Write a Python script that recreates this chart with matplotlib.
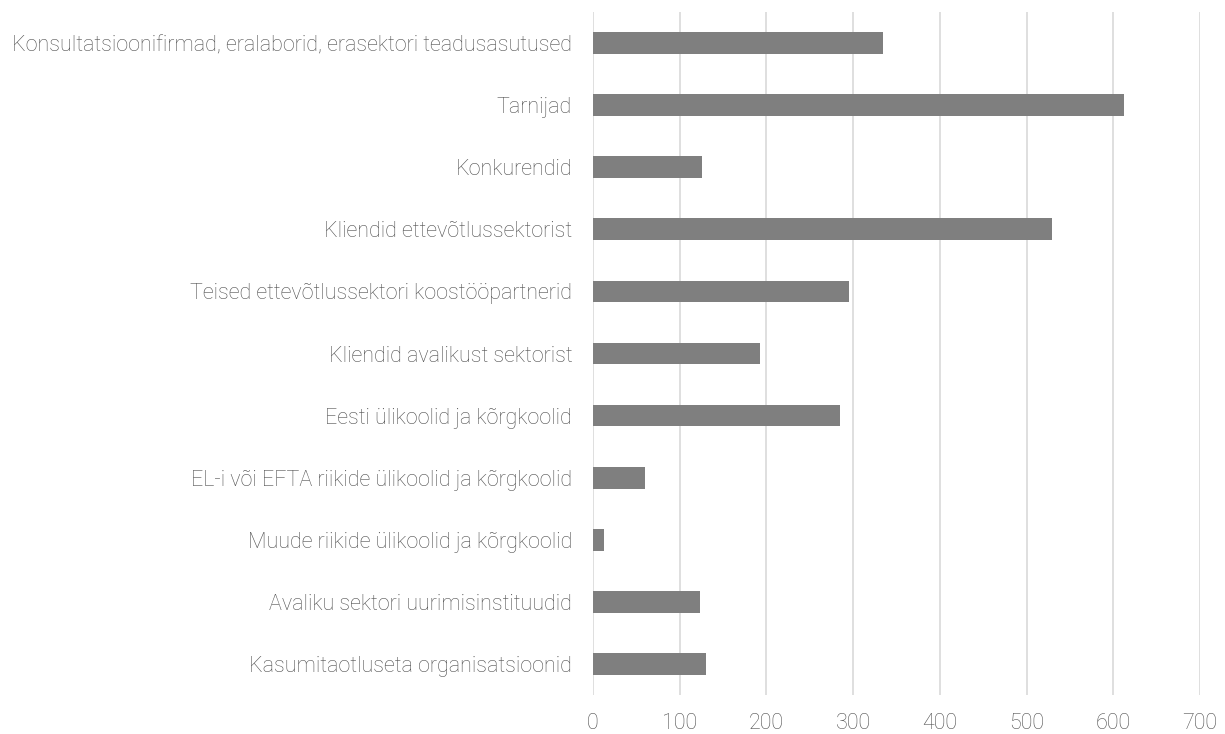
import matplotlib
matplotlib.use("Agg")
import matplotlib.pyplot as plt

categories = [
    "Konsultatsioonifirmad, eralaborid, erasektori teadusasutused",
    "Tarnijad",
    "Konkurendid",
    "Kliendid ettevõtlussektorist",
    "Teised ettevõtlussektori koostööpartnerid",
    "Kliendid avalikust sektorist",
    "Eesti ülikoolid ja kõrgkoolid",
    "EL-i või EFTA riikide ülikoolid ja kõrgkoolid",
    "Muude riikide ülikoolid ja kõrgkoolid",
    "Avaliku sektori uurimisinstituudid",
    "Kasumitaotluseta organisatsioonid",
]
values = [335, 612, 126, 529, 295, 193, 285, 60, 13, 123, 130]
xticks = [0, 100, 200, 300, 400, 500, 600, 700]

plt.rcParams['font.family'] = ['Roboto', 'DejaVu Sans']

fig = plt.figure(figsize=(12.25, 7.34), dpi=100)
ax = fig.add_axes([593/1225, 1 - 695/734, (1200 - 593)/1225, (695 - 12)/734])

y = list(range(len(categories)))
ax.barh(y, values, height=0.35, color="#7f7f7f", zorder=3)
ax.set_ylim(len(categories) - 0.5, -0.5)
ax.set_xlim(0, 700)
ax.set_xticks(xticks)
ax.set_xticklabels([str(t) for t in xticks])
ax.set_yticks(y)
ax.set_yticklabels(categories)

for s in ax.spines.values():
    s.set_visible(False)
ax.grid(axis="x", color="#d9d9d9", linewidth=1.2, zorder=0)
ax.tick_params(axis="both", length=0, colors="#505050")
ax.tick_params(axis="y", pad=15)
ax.tick_params(axis="x", pad=13)
for lab in ax.get_xticklabels() + ax.get_yticklabels():
    lab.set_fontsize(15.5)
    lab.set_fontweight("light")
    lab.set_color("#505050")

fig.savefig("out.png", dpi=100, facecolor="white")
